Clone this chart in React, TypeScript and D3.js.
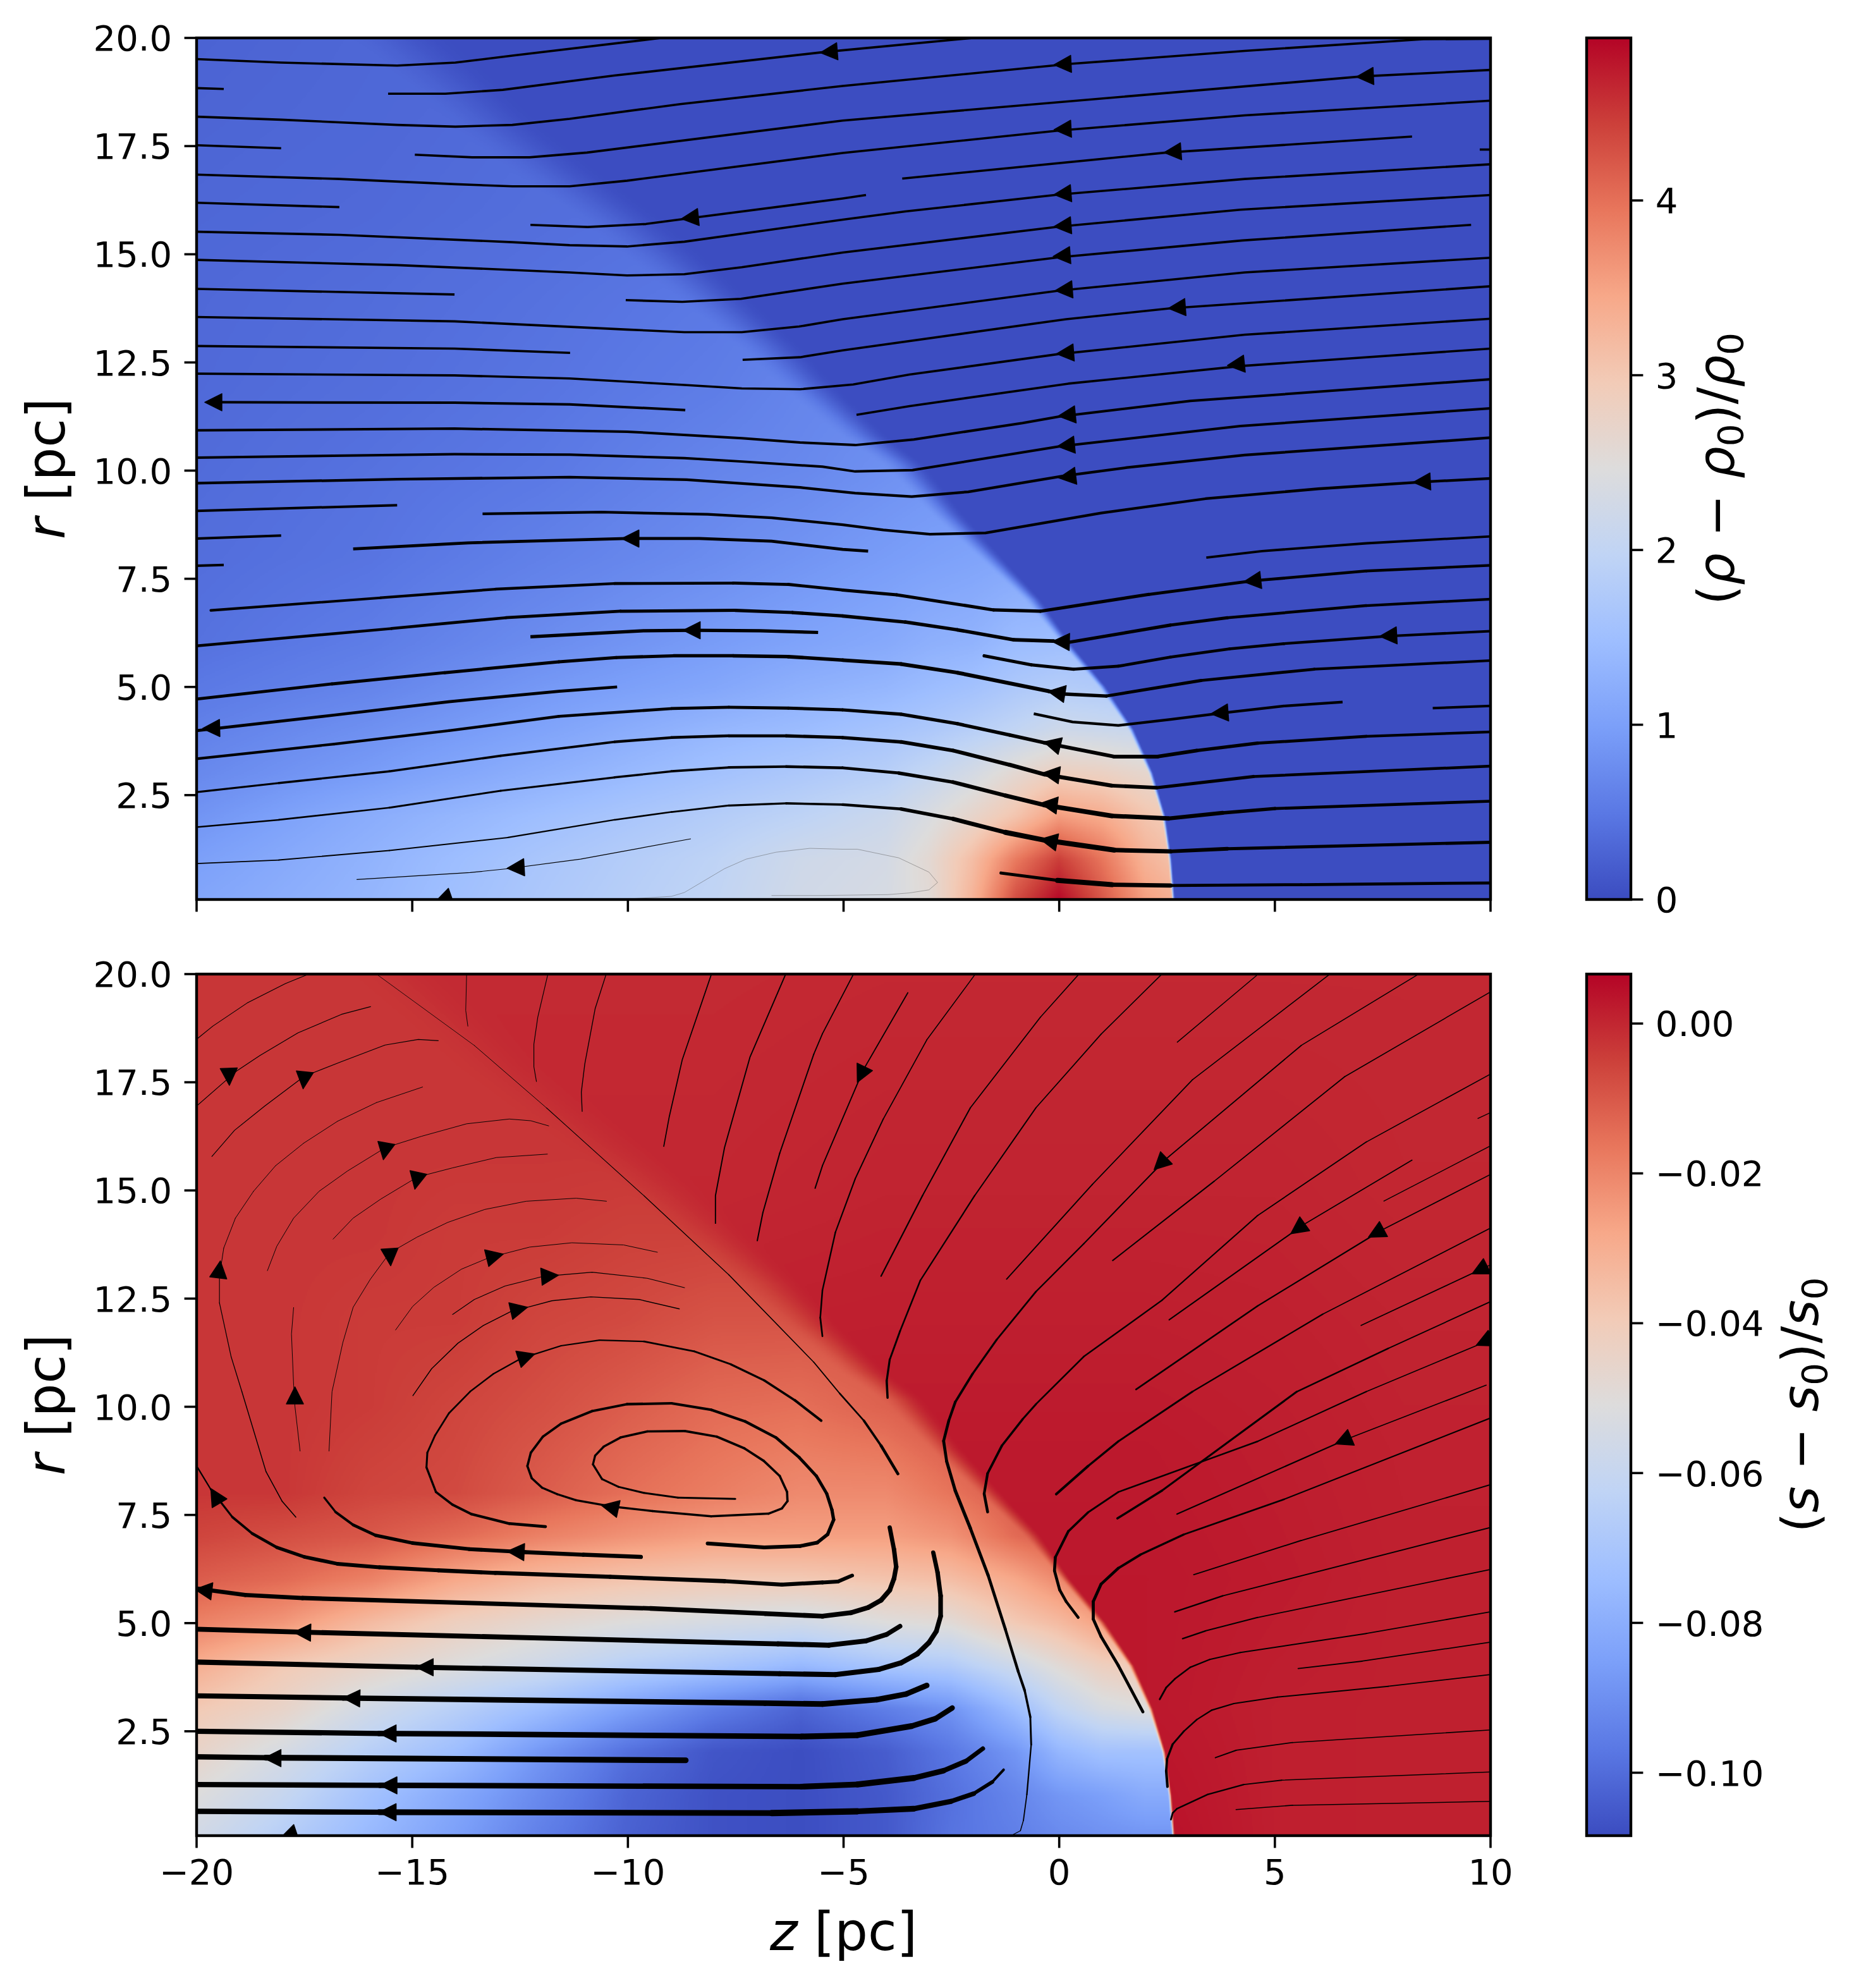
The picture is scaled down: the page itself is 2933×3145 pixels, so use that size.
import React, { useMemo } from 'react';
import * as d3 from 'd3';

type Pt = [number, number];
interface Stream { v: number[]; p: Pt[] }

const WIDTH = 2933;
const HEIGHT = 3145;
const PLOT = { left: 311, right: 2358, w: 2047, h: 1363 };
const TOP_Y = 60;
const BOT_Y = 1541;
const CBAR = { left: 2510, right: 2580 };

const zTicks = [-20, -15, -10, -5, 0, 5, 10];
const rTicks = [2.5, 5, 7.5, 10, 12.5, 15, 17.5, 20];
const rhoTicks = [0, 1, 2, 3, 4];
const sTicks = [-0.1, -0.08, -0.06, -0.04, -0.02, 0];
const rhoRange: Pt = [0, 4.93];
const sRange: Pt = [-0.1084, 0.0066];

// coolwarm
const cmStops = ['#3b4cc0', '#5a78e4', '#7b9ff9', '#9ebeff', '#c0d4f5', '#dddcdc', '#f2cbb7', '#f7a889', '#e8765c', '#cc403a', '#b40426'];

// shock front position
const shockR = [0, 1, 2, 3, 4, 5, 6, 7, 8, 9, 10.15, 10.8, 11.85, 12.86, 13.87, 14.9, 15.9, 16.9, 17.9, 18.9, 19.9, 20.5];
const shockZ = [2.66, 2.58, 2.43, 2.13, 1.68, 1, 0.16, -0.6, -1.6, -2.6, -3.6, -4.5, -5.7, -6.7, -7.85, -9.05, -10.25, -11.65, -12.95, -14, -15.15, -15.9];
const blurR = [0, 2, 4, 6, 8, 10, 15, 20];
const blurZ = [0.08, 0.1, 0.15, 0.25, 0.6, 1, 2, 2.5];

// density behind the front
const rhoZ = [-20, -16, -12, -8, -6, -4, -3, -2, -1, 0, 1, 2, 3, 4];
const rhoR = [0, 1, 2, 3, 4, 5, 6, 8, 10, 12, 14, 16, 18, 20];
const rhoRows = [
  [1.1, 1.35, 1.7, 2.0, 2.25, 2.35, 2.55, 3.3, 4.35, 4.93, 4.25, 3.55, 3.25, 3.25],
  [1.0, 1.3, 1.65, 1.95, 2.2, 2.3, 2.6, 3.15, 3.9, 4.45, 3.95, 3.3, 3.0, 3.0],
  [0.85, 1.2, 1.5, 1.8, 1.95, 2.15, 2.4, 2.7, 3.05, 3.55, 3.4, 3.05, 2.85, 2.85],
  [0.7, 0.95, 1.25, 1.55, 1.7, 1.85, 2.05, 2.3, 2.6, 2.85, 2.8, 2.65, 2.5, 2.5],
  [0.6, 0.8, 1.05, 1.35, 1.45, 1.6, 1.7, 1.85, 2.0, 2.2, 2.15, 2.1, 2.0, 2.0],
  [0.5, 0.65, 0.9, 1.1, 1.25, 1.35, 1.45, 1.55, 1.7, 1.8, 1.75, 1.7, 1.7, 1.7],
  [0.42, 0.55, 0.75, 0.95, 1.05, 1.15, 1.25, 1.3, 1.45, 1.5, 1.5, 1.5, 1.5, 1.5],
  [0.38, 0.45, 0.6, 0.75, 0.85, 0.95, 1.0, 1.05, 1.1, 1.1, 1.1, 1.1, 1.1, 1.1],
  [0.35, 0.42, 0.5, 0.65, 0.7, 0.8, 0.85, 0.85, 0.85, 0.85, 0.85, 0.85, 0.85, 0.85],
  [0.33, 0.38, 0.45, 0.55, 0.65, 0.7, 0.7, 0.7, 0.7, 0.7, 0.7, 0.7, 0.7, 0.7],
  [0.32, 0.36, 0.42, 0.5, 0.55, 0.55, 0.55, 0.55, 0.55, 0.55, 0.55, 0.55, 0.55, 0.55],
  [0.3, 0.33, 0.38, 0.42, 0.42, 0.42, 0.42, 0.42, 0.42, 0.42, 0.42, 0.42, 0.42, 0.42],
  [0.28, 0.31, 0.36, 0.38, 0.38, 0.38, 0.38, 0.38, 0.38, 0.38, 0.38, 0.38, 0.38, 0.38],
  [0.26, 0.3, 0.32, 0.33, 0.33, 0.33, 0.33, 0.33, 0.33, 0.33, 0.33, 0.33, 0.33, 0.33],
];
const rhoAhead = 0.01;

// entropy behind the front
const sZ = [-20, -18, -16, -14, -12, -10, -8, -6, -4, -2.5, -1, 0, 1, 2, 3];
const sR = [0, 1, 2, 3, 4, 5, 6, 7, 8, 10, 12, 14, 16, 20];
const sRows = [
  [-0.056, -0.066, -0.076, -0.085, -0.095, -0.103, -0.107, -0.108, -0.105, -0.098, -0.095, -0.092, -0.09, -0.089, -0.089],
  [-0.051, -0.06, -0.072, -0.082, -0.092, -0.102, -0.107, -0.108, -0.105, -0.099, -0.093, -0.088, -0.085, -0.081, -0.081],
  [-0.045, -0.054, -0.065, -0.074, -0.088, -0.099, -0.106, -0.108, -0.104, -0.097, -0.088, -0.077, -0.072, -0.072, -0.072],
  [-0.039, -0.045, -0.056, -0.065, -0.074, -0.085, -0.095, -0.102, -0.095, -0.089, -0.074, -0.062, -0.054, -0.051, -0.051],
  [-0.03, -0.039, -0.045, -0.051, -0.057, -0.065, -0.07, -0.076, -0.07, -0.067, -0.057, -0.049, -0.042, -0.039, -0.039],
  [-0.019, -0.024, -0.034, -0.042, -0.047, -0.051, -0.054, -0.056, -0.051, -0.049, -0.039, -0.034, -0.026, -0.023, -0.023],
  [-0.011, -0.014, -0.019, -0.028, -0.034, -0.037, -0.039, -0.039, -0.037, -0.035, -0.028, -0.021, -0.014, -0.011, -0.011],
  [-0.006, -0.008, -0.01, -0.014, -0.019, -0.023, -0.026, -0.026, -0.026, -0.023, -0.014, -0.01, -0.008, -0.008, -0.008],
  [-0.003, -0.003, -0.006, -0.007, -0.011, -0.015, -0.018, -0.021, -0.021, -0.016, -0.01, -0.008, -0.006, -0.006, -0.006],
  [-0.003, -0.003, -0.004, -0.006, -0.008, -0.011, -0.014, -0.015, -0.012, -0.008, -0.007, -0.007, -0.007, -0.007, -0.007],
  [-0.003, -0.003, -0.004, -0.004, -0.006, -0.007, -0.009, -0.009, -0.009, -0.007, -0.007, -0.007, -0.007, -0.007, -0.007],
  [-0.003, -0.003, -0.003, -0.004, -0.004, -0.005, -0.005, -0.005, -0.005, -0.005, -0.005, -0.005, -0.005, -0.005, -0.005],
  [-0.003, -0.003, -0.003, -0.003, -0.003, -0.003, -0.003, -0.003, -0.003, -0.003, -0.003, -0.003, -0.003, -0.003, -0.003],
  [-0.003, -0.003, -0.003, -0.003, -0.003, -0.003, -0.003, -0.003, -0.003, -0.003, -0.003, -0.003, -0.003, -0.003, -0.003],
];

// entropy ahead of the front
const aheadZ = [-16, -8, -4, 0, 2, 5, 8, 10];
const aheadR = [0, 3, 6, 9, 12, 15, 20];
const aheadRows = [
  [0.0055, 0.0055, 0.0055, 0.005, 0.0045, 0.0015, 0.0012, 0.0012],
  [0.0029, 0.0029, 0.0029, 0.0029, 0.0029, 0.0015, 0.0012, 0.0012],
  [0.0029, 0.0029, 0.0029, 0.0029, 0.0029, 0.0022, 0.0012, 0.0012],
  [0.0025, 0.0025, 0.0025, 0.0025, 0.0025, 0.0018, 0.001, 0.001],
  [0.0012, 0.0012, 0.0015, 0.0015, 0.0015, 0.0012, 0.0006, 0.0006],
  [0, 0, 0.0006, 0.0006, 0.0006, 0.0006, 0, 0],
  [-0.0006, -0.0006, -0.0003, -0.0003, -0.0003, -0.0003, -0.0003, -0.0003],
];

// density panel streamlines
const rhoStreams: Stream[] = [
  { v: [0.38], p: [[-20, 19.51], [-18.04, 19.43], [-15.35, 19.36], [-14, 19.43], [-12.68, 19.59], [-9.23, 20]] },
  { v: [0.38], p: [[-15.56, 18.71], [-14.23, 18.71], [-12.9, 18.8], [-10.32, 19.13], [-5.49, 19.67], [-2, 20]] },
  { v: [0.38], p: [[-20, 18.84], [-19.37, 18.82]] },
  { v: [0.38], p: [[-20, 18.18], [-18.04, 18.11], [-15.35, 17.99], [-14, 17.95], [-12.68, 17.99], [-11.35, 18.13], [-8.79, 18.47], [-5.02, 18.89], [0.26, 19.4], [4.3, 19.7], [8.44, 19.97], [10, 19.98]] },
  { v: [0.38], p: [[-14.94, 17.3], [-13.61, 17.24], [-12.28, 17.24], [-10.95, 17.35], [-5.02, 18.09], [7.02, 19.11], [10, 19.26]] },
  { v: [0.38], p: [[-20, 16.84], [-16.69, 16.74], [-14, 16.62], [-12.68, 16.57], [-11.35, 16.57], [-10.02, 16.7], [-5.02, 17.34], [0, 17.86], [4.3, 18.21], [10, 18.55]] },
  { v: [0.38], p: [[-20, 17.52], [-18.04, 17.45]] },
  { v: [0.38], p: [[-12.26, 15.68], [-10.93, 15.63], [-9.58, 15.7], [-8.74, 15.81], [-5.02, 16.29], [-4.48, 16.37]] },
  { v: [0.38], p: [[-3.64, 16.75], [2.48, 17.35], [8.18, 17.72]] },
  { v: [0.38], p: [[9.75, 17.42], [10, 17.42]] },
  { v: [0.38], p: [[-20, 16.19], [-16.69, 16.09]] },
  { v: [0.38], p: [[-20, 15.52], [-16.69, 15.45], [-12.68, 15.28], [-11.35, 15.21], [-10.02, 15.18], [-8.69, 15.29], [-5.02, 15.8], [-3.57, 15.99], [0, 16.38], [4.3, 16.74], [10, 17.08]] },
  { v: [0.38], p: [[-20, 14.87], [-15.35, 14.75], [-11.35, 14.58], [-10.02, 14.51], [-8.69, 14.54], [-7.36, 14.7], [-5.02, 15.04], [0, 15.64], [4.2, 16.03], [10, 16.37]] },
  { v: [0.38], p: [[-20, 14.2], [-14.02, 14.07]] },
  { v: [0.38], p: [[-10.05, 13.94], [-8.74, 13.9], [-7.38, 13.97], [-5.02, 14.32], [0, 14.93], [4.25, 15.32], [9.55, 15.68]] },
  { v: [0.38], p: [[-20, 13.55], [-14.02, 13.45], [-10.02, 13.26], [-8.69, 13.2], [-7.36, 13.2], [-6.03, 13.33], [-5.02, 13.5], [0, 14.16], [4.3, 14.58], [10, 14.92]] },
  { v: [0.38], p: [[-20, 12.88], [-14.02, 12.82], [-11.34, 12.72]] },
  { v: [0.38], p: [[-7.34, 12.56], [-6.01, 12.62], [-5.02, 12.78], [0.16, 13.5], [2.58, 13.75], [10, 14.26]] },
  { v: [0.38], p: [[-20, 12.24], [-14.02, 12.2], [-11.35, 12.13], [-8.69, 11.98], [-7.36, 11.9], [-6.01, 11.88], [-4.78, 11.99], [-3.47, 12.22], [-0.04, 12.69], [4.3, 13.14], [10, 13.51]] },
  { v: [0.42], p: [[-19.7, 11.58], [-14.02, 11.57], [-11.35, 11.53], [-8.67, 11.4]] },
  { v: [0.42], p: [[-20, 10.93], [-14.02, 10.97], [-10.02, 10.9], [-7.36, 10.75], [-6.01, 10.65], [-4.73, 10.59], [-3.37, 10.72], [-0.85, 11.1], [0, 11.25], [3.04, 11.61], [10, 12.11]] },
  { v: [0.38], p: [[-4.7, 11.29], [-3.47, 11.49], [0.21, 12.01], [4.25, 12.42], [10, 12.82]] },
  { v: [0.42], p: [[-20, 10.3], [-14.02, 10.38], [-11.35, 10.37], [-8.69, 10.29], [-7.36, 10.21], [-5.49, 10.09], [-4.73, 9.98], [-3.4, 10.01], [0, 10.56], [4.2, 11.03], [10, 11.44]] },
  { v: [0.45], p: [[-20, 9.71], [-15.35, 9.8], [-11.35, 9.85], [-8.64, 9.79], [-6, 9.61], [-4.73, 9.48], [-3.42, 9.4], [-2.11, 9.51], [0.06, 9.87], [1.57, 10.07], [4.3, 10.36], [10, 10.76]] },
  { v: [0.42], p: [[-20, 9.07], [-15.35, 9.2]] },
  { v: [0.45], p: [[-13.37, 9], [-10.61, 9.04], [-8.15, 8.99], [-6.67, 8.91], [-5.02, 8.75], [-4.08, 8.63], [-3, 8.53], [-1.71, 8.56], [0.97, 9.02], [3.39, 9.35], [6.01, 9.58], [8.44, 9.74], [10, 9.82]] },
  { v: [0.42], p: [[-20, 8.43], [-18.04, 8.5]] },
  { v: [0.5], p: [[-16.37, 8.19], [-13.71, 8.33], [-10.02, 8.43], [-8.35, 8.43], [-6.67, 8.37], [-5.02, 8.18], [-4.43, 8.14]] },
  { v: [0.42], p: [[-20, 7.8], [-19.37, 7.82]] },
  { v: [0.42, 0.5, 0.55, 0.45], p: [[-19.67, 6.77], [-15.73, 7.06], [-13.07, 7.26], [-10.31, 7.39], [-7.56, 7.4], [-6.28, 7.37], [-5.02, 7.24], [-3.77, 7.13], [-1.52, 6.78], [-0.44, 6.75], [2.08, 7.14], [4.45, 7.45], [7.12, 7.68], [10, 7.81]] },
  { v: [0.4], p: [[3.41, 7.99], [4.7, 8.14], [7.12, 8.32], [10, 8.48]] },
  { v: [0.45, 0.55, 0.6, 0.42], p: [[-20, 5.95], [-15.48, 6.35], [-12.83, 6.6], [-10.17, 6.75], [-7.51, 6.77], [-6.18, 6.72], [-5.02, 6.64], [-3.57, 6.5], [-2.36, 6.32], [-1.05, 6.09], [-0.14, 6.06], [0.21, 6.03], [2.58, 6.43], [3.9, 6.6], [7.12, 6.88], [10, 7.03]] },
  { v: [0.55], p: [[-12.26, 6.16], [-9.62, 6.3], [-8.5, 6.31], [-6.93, 6.3], [-5.59, 6.26]] },
  { v: [0.55, 0.42], p: [[-1.74, 5.72], [-0.65, 5.51], [0.34, 5.41], [1.37, 5.48], [2.58, 5.69], [3.95, 5.88], [5.21, 6], [7.73, 6.18], [10, 6.29]] },
  { v: [0.5, 0.55, 0.65, 0.42], p: [[-20, 4.72], [-16.86, 5.07], [-14.25, 5.33], [-11.6, 5.58], [-10.27, 5.68], [-8.94, 5.72], [-7.56, 5.72], [-6.28, 5.7], [-5.02, 5.62], [-3.67, 5.53], [-2.36, 5.33], [-0.24, 4.9], [0.06, 4.84], [1.09, 4.79], [3.29, 5.15], [5.91, 5.41], [10, 5.61]] },
  { v: [0.5], p: [[-20, 3.99], [-16.81, 4.35], [-14.15, 4.66], [-11.6, 4.9], [-10.25, 5]] },
  { v: [0.45], p: [[-0.59, 4.38], [0.31, 4.19], [1.37, 4.11], [2.58, 4.25], [3.79, 4.4], [5.21, 4.56], [6.57, 4.65]] },
  { v: [0.42], p: [[8.66, 4.51], [10, 4.56]] },
  { v: [0.42, 0.5, 0.55, 0.65, 0.42], p: [[-20, 3.34], [-16.81, 3.68], [-14.15, 3.99], [-11.6, 4.32], [-8.99, 4.5], [-7.66, 4.53], [-6.28, 4.51], [-5.02, 4.47], [-3.67, 4.37], [-2.36, 4.15], [-1.15, 3.89], [-0.34, 3.71], [1.27, 3.39], [2.28, 3.39], [3.19, 3.53], [4.6, 3.7], [7.12, 3.86], [10, 3.96]] },
  { v: [0.32, 0.42, 0.55, 0.7, 0.45], p: [[-20, 2.57], [-18.09, 2.78], [-15.53, 3.05], [-12.95, 3.41], [-10.31, 3.73], [-8.99, 3.83], [-7.66, 3.87], [-6.33, 3.87], [-5.02, 3.83], [-3.67, 3.73], [-2.46, 3.53], [-1.15, 3.2], [-0.34, 2.98], [1.22, 2.72], [2.25, 2.67], [4.5, 2.93], [10, 3.17]] },
  { v: [0.25, 0.35, 0.5, 0.8, 0.45], p: [[-20, 1.76], [-18.09, 1.93], [-15.53, 2.21], [-12.95, 2.6], [-10.31, 2.91], [-8.99, 3.05], [-7.66, 3.14], [-6.33, 3.16], [-5.02, 3.13], [-3.72, 3.01], [-2.46, 2.8], [-1.25, 2.49], [-0.34, 2.27], [1.22, 2.02], [2.53, 1.96], [3.79, 2.09], [5, 2.19], [10, 2.36]] },
  { v: [0.18, 0.25, 0.4, 0.9, 0.45], p: [[-20, 0.92], [-18.09, 1], [-15.53, 1.22], [-12.78, 1.52], [-10.31, 1.93], [-8.99, 2.11], [-7.66, 2.26], [-6.33, 2.31], [-5.02, 2.28], [-3.67, 2.18], [-2.46, 1.95], [-1.25, 1.64], [-0.34, 1.46], [1.27, 1.23], [2.58, 1.2], [3.9, 1.26], [10, 1.41]] },
  { v: [0.12], p: [[-16.29, 0.55], [-13.66, 0.71], [-12.78, 0.8], [-11.1, 1.02], [-8.54, 1.49]] },
  { v: [0.35, 0.9, 0.5, 0.5], p: [[-1.35, 0.7], [-0.04, 0.53], [1.22, 0.43], [2.58, 0.41], [5.61, 0.43], [10, 0.47]] },
  { v: [0.05], p: [[-11.4, 0.05], [-10, 0.1], [-8.99, 0.16], [-8.69, 0.25], [-7.76, 0.8], [-7.26, 1.02], [-6.57, 1.18], [-5.78, 1.27], [-5.02, 1.25], [-4.68, 1.25], [-3.72, 1.05], [-3.02, 0.72], [-2.82, 0.48], [-3.02, 0.31], [-3.47, 0.24], [-3.98, 0.2], [-5.49, 0.18], [-6.67, 0.18]] },
  { v: [0.5], p: [[1.37, 0.04], [2.73, 0.04]] },
  { v: [0.12], p: [[-14.5, 0.04], [-11, 0.04]] },
];

// [tip z, tip r, back z, back r]
const rhoArrows = [
  [-5.54, 19.66, -5.15, 19.69], [-0.12, 19.38, 0.26, 19.4], [6.89, 19.1, 7.28, 19.12], [-0.12, 17.88, 0.26, 17.9],
  [2.43, 17.35, 2.83, 17.38], [-0.12, 16.38, 0.26, 16.41], [-0.12, 15.64, 0.27, 15.67], [-0.14, 14.95, 0.26, 14.98],
  [-0.09, 14.16, 0.31, 14.19], [2.53, 13.75, 2.92, 13.78], [-0.06, 12.7, 0.34, 12.73], [3.9, 12.43, 4.28, 12.47],
  [-0.02, 11.26, 0.38, 11.3], [-0.04, 10.56, 0.36, 10.6], [-0.01, 9.83, 0.38, 9.88], [-8.76, 15.82, -8.37, 15.86],
  [-19.81, 11.58, -19.42, 11.58], [8.21, 9.73, 8.61, 9.75], [4.28, 7.43, 4.65, 7.47], [7.43, 6.17, 7.8, 6.19],
  [-0.16, 6.05, 0.22, 6.04], [-0.26, 4.9, 0.11, 4.84], [3.52, 4.38, 3.92, 4.41], [-0.36, 3.73, 0.04, 3.63],
  [-0.39, 3.01, 0, 2.96], [-0.44, 2.31, -0.04, 2.26], [-0.44, 1.48, -0.06, 1.41], [-10.14, 8.43, -9.75, 8.43],
  [-8.72, 6.31, -8.33, 6.31], [-19.86, 4.04, -19.47, 4.05], [-12.8, 0.81, -12.46, 0.83], [-14.47, 0.03, -14.15, 0.14],
];

// entropy panel streamlines
const sStreams: Stream[] = [
  { v: [0.12], p: [[-19.98, 18.51], [-19.62, 18.8], [-18.83, 19.33], [-17.94, 19.78], [-17.4, 20]] },
  { v: [0.12], p: [[-20, 16.95], [-19.07, 17.76], [-18.53, 18.12], [-17.65, 18.64], [-16.64, 19.07], [-15.96, 19.25]] },
  { v: [0.12], p: [[-19.65, 15.78], [-19.12, 16.39], [-18.42, 16.95], [-17.5, 17.64], [-16.66, 17.97], [-15.63, 18.36], [-14.86, 18.49], [-14.39, 18.46]] },
  { v: [0.18, 0.1, 0.1], p: [[-17.7, 7.45], [-18.02, 7.82], [-18.39, 8.5], [-18.95, 10.35], [-19.2, 11.16], [-19.47, 12.4], [-19.47, 13.02], [-19.37, 13.67], [-19.1, 14.36], [-18.68, 14.98], [-18.17, 15.57], [-17.52, 16.09], [-16.73, 16.6], [-15.83, 17.03], [-14.76, 17.39]] },
  { v: [0.1], p: [[-18.36, 13.14], [-18.14, 13.71], [-17.75, 14.36], [-17.16, 14.98], [-16.5, 15.45], [-15.62, 15.99], [-14.79, 16.25], [-13.74, 16.54], [-12.75, 16.65], [-12.25, 16.61], [-11.83, 16.49]] },
  { v: [0.1], p: [[-16.84, 13.87], [-16.37, 14.36], [-15.73, 14.8], [-14.88, 15.31], [-14.07, 15.52], [-13.05, 15.76], [-11.86, 15.84]] },
  { v: [0.1], p: [[-17.75, 12.3], [-17.8, 11.68], [-17.75, 10.5], [-17.72, 10.01], [-17.6, 8.97]] },
  { v: [0.1], p: [[-16.93, 8.97], [-16.86, 10.35], [-16.61, 11.48], [-16.37, 12.3], [-15.97, 12.95], [-15.52, 13.56], [-14.89, 13.92], [-14.18, 14.26], [-13.32, 14.56], [-12.36, 14.75], [-11.2, 14.82], [-10.49, 14.75]] },
  { v: [0.1], p: [[-15.39, 11.77], [-14.99, 12.32], [-14.5, 12.76], [-13.86, 13.18], [-13.21, 13.45], [-12.28, 13.69], [-11.3, 13.79], [-10.1, 13.74], [-9.31, 13.57]] },
  { v: [0.12], p: [[-14.07, 12.13], [-13.56, 12.48], [-12.85, 12.79], [-11.94, 13.02], [-11.64, 13.04], [-10.83, 13.11], [-9.55, 12.97], [-8.68, 12.75]] },
  { v: [0.15], p: [[-14.99, 10.25], [-14.55, 10.88], [-13.94, 11.47], [-13.35, 11.88], [-12.68, 12.22], [-12.33, 12.3], [-11.76, 12.45], [-10.86, 12.54], [-9.74, 12.48], [-8.8, 12.26]] },
  { v: [0.5, 0.3, 0.22, 0.45], p: [[-11.91, 7.23], [-12.75, 7.3], [-13.63, 7.52], [-14.07, 7.74], [-14.45, 8.03], [-14.67, 8.6], [-14.65, 8.94], [-14.47, 9.34], [-14.15, 9.85], [-13.66, 10.35], [-13.12, 10.76], [-12.47, 11.12], [-11.55, 11.41], [-10.66, 11.54], [-9.63, 11.51], [-8.46, 11.28], [-7.61, 10.98], [-6.84, 10.61], [-6.13, 10.15], [-5.52, 9.68]] },
  { v: [0.3, 0.4, 0.35, 0.45, 0.65], p: [[-7.51, 7.87], [-8.84, 7.9], [-9.63, 8.01], [-10.22, 8.15], [-10.6, 8.33], [-10.81, 8.67], [-10.76, 8.87], [-10.56, 9.08], [-10.17, 9.29], [-9.55, 9.43], [-8.68, 9.44], [-7.94, 9.31], [-7.3, 9.04], [-6.85, 8.75], [-6.48, 8.4], [-6.31, 8.03], [-6.3, 7.82], [-6.43, 7.65], [-6.74, 7.53], [-8.07, 7.47], [-9.43, 7.59], [-10.41, 7.7], [-11.2, 7.84], [-11.64, 7.98], [-11.99, 8.13], [-12.23, 8.35], [-12.33, 8.63], [-12.25, 8.94], [-11.97, 9.31], [-11.55, 9.61], [-10.83, 9.9], [-10.02, 10.06], [-8.99, 10.08], [-8.07, 9.93], [-7.28, 9.66], [-6.57, 9.29], [-6.03, 8.83], [-5.63, 8.4], [-5.39, 7.99], [-5.27, 7.62], [-5.23, 7.39], [-5.37, 7.05], [-5.61, 6.86], [-6.01, 6.78], [-6.84, 6.75], [-8.15, 6.84]] },
  { v: [0.7, 0.6, 0.3], p: [[-9.7, 6.53], [-11.03, 6.58], [-12.38, 6.64], [-13.68, 6.71], [-14.99, 6.85], [-15.85, 7.03], [-16.37, 7.27], [-16.78, 7.57], [-17.04, 7.9]] },
  { v: [0.6, 0.7, 0.6, 0.2], p: [[-4.8, 6.1], [-5.13, 5.96], [-5.49, 5.94], [-6.43, 5.89], [-7.76, 5.97], [-10.41, 6.07], [-13.07, 6.16], [-14.4, 6.22], [-15.76, 6.29], [-16.73, 6.37], [-17.5, 6.53], [-18.14, 6.75], [-18.71, 7.07], [-19.17, 7.45], [-19.67, 8.09], [-19.98, 8.6]] },
  { v: [0.65, 0.8, 0.8, 0.7], p: [[-20, 5.8], [-18.87, 5.65], [-17.54, 5.58], [-9.48, 5.34], [-6.82, 5.22], [-5.49, 5.16], [-4.83, 5.24], [-4.43, 5.36], [-4.13, 5.53], [-3.93, 5.76], [-3.83, 6.03], [-3.78, 6.3], [-3.83, 6.7], [-3.93, 7.21]] },
  { v: [0.8, 0.85, 0.75], p: [[-20, 4.86], [-17.5, 4.79], [-6.52, 4.52], [-5.34, 4.49], [-4.48, 4.59], [-4, 4.74], [-3.69, 4.93]] },
  { v: [0.85, 0.85, 0.7], p: [[-20, 4.1], [-14.9, 3.98], [-6.48, 3.83], [-5.19, 3.81], [-4.18, 3.93], [-3.67, 4.08], [-3.29, 4.29], [-3.02, 4.55], [-2.85, 4.81], [-2.75, 5.16], [-2.75, 5.63], [-2.82, 6.17], [-2.92, 6.63]] },
  { v: [0.85, 0.95, 0.9], p: [[-20, 3.32], [-16.6, 3.27], [-6.82, 3.15], [-5.49, 3.13], [-4.23, 3.23], [-3.55, 3.36], [-3.07, 3.56]] },
  { v: [0.85, 1, 0.85], p: [[-20, 2.5], [-15.77, 2.45], [-5.98, 2.38], [-4.68, 2.41], [-3.42, 2.62], [-2.87, 2.79], [-2.48, 3.04]] },
  { v: [0.85, 1], p: [[-20, 1.91], [-18.4, 1.89], [-8.66, 1.83]] },
  { v: [0.85, 1, 0.7], p: [[-20, 1.27], [-15.75, 1.25], [-5.98, 1.22], [-4.68, 1.27], [-3.37, 1.42], [-2.68, 1.59], [-2.16, 1.81], [-1.77, 2.1]] },
  { v: [0.85, 1.05, 0.8, 0.35], p: [[-20, 0.65], [-15.77, 0.63], [-6.67, 0.61], [-4.68, 0.65], [-3.37, 0.71], [-2.51, 0.88], [-1.98, 1.06], [-1.55, 1.33], [-1.29, 1.61]] },
  { v: [0.5], p: [[-20, 0.03], [-17.9, 0.03]] },
  { v: [0.4], p: [[-13.5, 0.03], [-4.2, 0.03]] },
  { v: [0.08, 0.12, 0.22, 0.55], p: [[-15.83, 20], [-13.56, 18.35], [-11.89, 16.91], [-9.63, 14.88], [-7.66, 13.05], [-5.69, 11.03], [-5.09, 10.31], [-4.53, 9.68], [-4.13, 9.1], [-3.74, 8.45]] },
  { v: [0.1], p: [[-13.74, 19.98], [-13.76, 19.16], [-13.71, 18.79]] },
  { v: [0.12], p: [[-11.86, 19.98], [-12.09, 19], [-12.18, 18.38], [-12.18, 17.86], [-12.12, 17.51]] },
  { v: [0.14], p: [[-10.51, 19.98], [-10.76, 19.2], [-11, 17.92], [-11.08, 17.27], [-11.06, 16.82]] },
  { v: [0.18], p: [[-8.07, 19.98], [-8.74, 18.02], [-9.04, 16.71], [-9.17, 16.01]] },
  { v: [0.2], p: [[-6.35, 19.98], [-7.17, 18.08], [-7.76, 15.99], [-7.97, 14.88], [-7.97, 14.23]] },
  { v: [0.18, 0.22], p: [[-4.78, 19.98], [-5.49, 18.62], [-5.69, 18.15], [-6.48, 15.86], [-6.87, 14.49], [-7, 13.84]] },
  { v: [0.18, 0.22], p: [[-3.51, 19.57], [-4.54, 17.79], [-5.49, 15.57], [-5.66, 15.05]] },
  { v: [0.15, 0.3], p: [[-1.96, 19.98], [-3.07, 18.48], [-4.08, 16.65], [-4.73, 15.27], [-5.19, 14.03], [-5.49, 12.69], [-5.54, 12.06], [-5.49, 11.63]] },
  { v: [0.15, 0.25], p: [[0.44, 19.98], [-0.44, 19], [-2.06, 16.91], [-3.17, 14.88], [-4.13, 13.02]] },
  { v: [0.15, 0.25, 0.4], p: [[2.36, 19.98], [0.97, 18.61], [-0.54, 16.91], [-1.96, 14.88], [-3.22, 12.92], [-3.69, 11.75], [-3.93, 11.09], [-4, 10.6], [-3.98, 10.21]] },
  { v: [0.15], p: [[4.58, 19.97], [2.73, 18.42]] },
  { v: [0.15, 0.22], p: [[6.25, 19.98], [3.09, 17.56], [0.77, 15.14], [-1.22, 12.95]] },
  { v: [0.15, 0.25, 0.45, 0.55, 0.45, 0.2, 0.08], p: [[8.3, 19.98], [5.61, 18.35], [2.48, 15.73], [0.57, 13.77], [-0.54, 12.66], [-1.45, 11.55], [-2.01, 10.76], [-2.41, 10.11], [-2.56, 9.68], [-2.68, 9.21], [-2.61, 8.74], [-2.41, 8.06], [-2.06, 7.19], [-1.65, 6.11], [-1.25, 4.86], [-0.95, 3.88], [-0.8, 3.44], [-0.67, 2.83], [-0.65, 2.19], [-0.75, 1.04], [-0.83, 0.44], [-0.9, 0.2], [-1.15, 0.07], [-1.45, 0.03]] },
  { v: [0.15, 0.22], p: [[10, 19.59], [6.62, 17.63], [3.59, 15.21], [1.24, 13.38]] },
  { v: [0.15, 0.3, 0.5], p: [[10, 17.69], [7.12, 16.12], [4.6, 14.42], [2.38, 12.46], [0.57, 11.16], [-0.54, 10.06], [-0.85, 9.71], [-1.33, 9.1], [-1.66, 8.46], [-1.74, 7.99], [-1.66, 7.57]] },
  { v: [0.15, 0.25], p: [[8.18, 15.7], [5.65, 14.2], [2.55, 12.01]] },
  { v: [0.15], p: [[10, 16.03], [7.52, 14.75]] },
  { v: [0.15, 0.3], p: [[10, 15.37], [7.47, 14.08], [4.6, 12.33], [1.78, 10.4]] },
  { v: [0.15, 0.3, 0.45], p: [[10, 14.13], [6.11, 12.14], [3.09, 10.35], [1.37, 9.2], [0.67, 8.63], [-0.07, 7.98]] },
  { v: [0.15, 0.3, 0.4], p: [[10, 12.43], [7.63, 11.35], [5.51, 10.35], [2.38, 8.06], [1.35, 7.42]] },
  { v: [0.15, 0.3, 0.5, 0.45], p: [[10, 11.55], [7.12, 10.35], [4.6, 9.2], [1.37, 8.03], [0.67, 7.56], [0.21, 7.12], [-0.09, 6.52], [-0.11, 6.21], [0.01, 5.77], [0.16, 5.5], [0.44, 5.13]] },
  { v: [0.15, 0.25], p: [[9.9, 10.5], [6.71, 9.27], [2.73, 7.52]] },
  { v: [0.15, 0.2], p: [[10, 13.28], [9.87, 13.22], [7, 11.88]] },
  { v: [0.15], p: [[10, 16.8], [9.7, 16.66]] },
  { v: [0.2, 0.5, 0.5], p: [[10, 9.74], [5.21, 7.86], [2.89, 7.05], [1.88, 6.58], [1.37, 6.27], [0.97, 5.9], [0.79, 5.5], [0.79, 5.09], [0.97, 4.69], [1.37, 4.02], [1.94, 2.95]] },
  { v: [0.18, 0.22], p: [[10, 8.2], [5.61, 6.91], [3.12, 6.12]] },
  { v: [0.18, 0.28], p: [[10, 7.21], [3.79, 5.63], [2.68, 5.26]] },
  { v: [0.18, 0.25], p: [[10, 6.24], [4.6, 5.13], [3.39, 4.82], [2.86, 4.64]] },
  { v: [0.18, 0.3], p: [[10, 5.26], [7.12, 4.76], [4.2, 4.32], [3.49, 4.16], [3.04, 3.98], [2.68, 3.71], [2.48, 3.51], [2.33, 3.24]] },
  { v: [0.18, 0.2], p: [[10, 4.56], [7.02, 4.12], [5.54, 3.95]] },
  { v: [0.18, 0.25, 0.45], p: [[10, 3.81], [7.63, 3.54], [5.06, 3.29], [4.05, 3.14], [3.54, 2.99], [3.19, 2.77], [2.89, 2.5], [2.63, 2.2], [2.5, 1.86], [2.48, 1.59], [2.51, 1.22]] },
  { v: [0.15, 0.22], p: [[10, 2.53], [5.41, 2.24], [4.1, 2.06], [3.62, 1.89]] },
  { v: [0.15, 0.25, 0.3], p: [[10, 1.56], [5.16, 1.37], [4.28, 1.27], [3.44, 1.04], [2.73, 0.71], [2.63, 0.61], [2.59, 0.46]] },
  { v: [0.15, 0.18], p: [[10, 0.88], [5.41, 0.79], [4.1, 0.69]] },
];

const sArrows = [
  [-19.24, 17.43, -19.25, 17.71], [-17.53, 17.35, -17.5, 17.64], [-19.45, 13.37, -19.49, 13.04], [-15.67, 15.71, -15.62, 15.99],
  [-14.94, 15.03, -14.88, 15.31], [-15.5, 13.26, -15.52, 13.56], [-12.89, 13.53, -13.21, 13.45], [-11.61, 13.04, -11.96, 13.01],
  [-12.33, 12.3, -12.68, 12.22], [-12.16, 11.22, -12.47, 11.12], [-17.72, 10.46, -17.72, 10.13], [-4.68, 17.5, -4.54, 17.79],
  [2.2, 15.48, 2.44, 15.71], [5.37, 14, 5.65, 14.2], [7.17, 13.92, 7.47, 14.08], [9.57, 13.07, 9.87, 13.22],
  [9.67, 11.42, 9.95, 11.55], [6.4, 9.14, 6.71, 9.27], [-19.67, 8.11, -19.51, 7.84], [-10.61, 7.72, -10.28, 7.65],
  [-12.8, 6.66, -12.4, 6.64], [-20.04, 5.78, -19.78, 5.75], [-17.75, 4.79, -17.34, 4.78], [-14.91, 3.98, -14.49, 3.98],
  [-16.61, 3.27, -16.2, 3.26], [-15.77, 2.45, -15.36, 2.45], [-18.44, 1.88, -18.04, 1.88], [-15.75, 1.25, -15.36, 1.25],
  [-15.77, 0.63, -15.36, 0.63], [-18.06, 0.03, -17.7, 0.15],
];

const zScale = d3.scaleLinear().domain([-20, 10]).range([0, PLOT.w]);
const rScale = d3.scaleLinear().domain([0, 20]).range([PLOT.h + 6, 0]);
const widthScale = d3.scaleLinear().domain([0, 1]).range([0, 9.5]);
const shockAt = d3.scaleLinear().domain(shockR).range(shockZ);
const blurAt = d3.scaleLinear().domain(blurR).range(blurZ).clamp(true);

function sampleGrid(xs: number[], ys: number[], rows: number[][], x: number, y: number) {
  const i = Math.max(0, Math.min(xs.length - 2, d3.bisectRight(xs, x) - 1));
  const j = Math.max(0, Math.min(ys.length - 2, d3.bisectRight(ys, y) - 1));
  const fx = Math.max(0, Math.min(1, (x - xs[i]) / (xs[i + 1] - xs[i])));
  const fy = Math.max(0, Math.min(1, (y - ys[j]) / (ys[j + 1] - ys[j])));
  const lo = rows[j][i] * (1 - fx) + rows[j][i + 1] * fx;
  const hi = rows[j + 1][i] * (1 - fx) + rows[j + 1][i + 1] * fx;
  return lo * (1 - fy) + hi * fy;
}

function colormap(range: Pt) {
  const dom = d3.range(cmStops.length).map(i => range[0] + ((range[1] - range[0]) * i) / (cmStops.length - 1));
  return d3.scaleLinear<string>().domain(dom).range(cmStops).interpolate(d3.interpolateRgb).clamp(true);
}

function paintField(range: Pt, behind: (z: number, r: number) => number, ahead: (z: number, r: number) => number) {
  const w = Math.round(PLOT.w / 2);
  const h = Math.round(PLOT.h / 2);
  const canvas = document.createElement('canvas');
  canvas.width = w;
  canvas.height = h;
  const ctx = canvas.getContext('2d') as CanvasRenderingContext2D;
  const img = ctx.createImageData(w, h);
  const color = colormap(range);
  const lut = d3.range(512).map(i => d3.rgb(color(range[0] + ((range[1] - range[0]) * i) / 511)));
  for (let y = 0; y < h; y++) {
    const r = rScale.invert((y + 0.5) * 2);
    const zs = shockAt(r);
    const bw = blurAt(r);
    for (let x = 0; x < w; x++) {
      const z = zScale.invert((x + 0.5) * 2);
      let f = (zs - z) / bw + 0.5;
      f = f < 0 ? 0 : f > 1 ? 1 : f;
      f = f * f * (3 - 2 * f);
      let val = 0;
      if (f <= 0) val = ahead(z, r);
      else if (f >= 1) val = behind(z, r);
      else val = behind(z, r) * f + ahead(z, r) * (1 - f);
      const k = Math.max(0, Math.min(511, Math.round(((val - range[0]) / (range[1] - range[0])) * 511)));
      const c = lut[k];
      const o = (y * w + x) * 4;
      img.data[o] = c.r;
      img.data[o + 1] = c.g;
      img.data[o + 2] = c.b;
      img.data[o + 3] = 255;
    }
  }
  ctx.putImageData(img, 0, 0);
  return canvas.toDataURL();
}

const lineGen = d3.line<Pt>().x(d => zScale(d[0])).y(d => rScale(d[1]));

const StreamLines: React.FC<{ streams: Stream[] }> = ({ streams }) => (
  <g fill="none" stroke="#000" strokeLinejoin="round">
    {streams.map((s, i) => {
      if (s.v.length === 1) {
        const w = widthScale(s.v[0]);
        return <path key={i} d={lineGen(s.p) as string} strokeWidth={w} stroke={w < 0.6 ? '#555' : '#000'} />;
      }
      const speed = d3.scaleLinear().domain(s.v.map((_, k) => k / (s.v.length - 1))).range(s.v);
      return (
        <g key={i} strokeLinecap="round">
          {s.p.slice(1).map((q, k) => (
            <path key={k} d={lineGen([s.p[k], q]) as string} strokeWidth={widthScale(speed((k + 0.5) / (s.p.length - 1)))} />
          ))}
        </g>
      );
    })}
  </g>
);

const Arrows: React.FC<{ arrows: number[][] }> = ({ arrows }) => (
  <g fill="#000" stroke="#000" strokeWidth={1.5} strokeLinejoin="round">
    {arrows.map((a, i) => {
      const tx = zScale(a[0]);
      const ty = rScale(a[1]);
      const ang = Math.atan2(rScale(a[3]) - ty, zScale(a[2]) - tx);
      const len = 27;
      const half = 13.5;
      const bx = tx + len * Math.cos(ang);
      const by = ty + len * Math.sin(ang);
      const px = -Math.sin(ang) * half;
      const py = Math.cos(ang) * half;
      return <polygon key={i} points={`${tx},${ty} ${bx + px},${by + py} ${bx - px},${by - py}`} />;
    })}
  </g>
);

const FONT = "'DejaVu Sans', sans-serif";
const TICK_FS = 56;
const LABEL_FS = 83;
const TICK_LEN = 19.4;
const LW = 4.4;

const Panel: React.FC<{
  y: number; id: string; image: string; streams: Stream[]; arrows: number[][]; showX: boolean;
}> = ({ y, id, image, streams, arrows, showX }) => (
  <g transform={`translate(${PLOT.left},${y})`}>
    <clipPath id={id}>
      <rect width={PLOT.w} height={PLOT.h} />
    </clipPath>
    <image href={image} width={PLOT.w} height={PLOT.h} preserveAspectRatio="none" />
    <g clipPath={`url(#${id})`}>
      <StreamLines streams={streams} />
      <Arrows arrows={arrows} />
    </g>
    <rect width={PLOT.w} height={PLOT.h} fill="none" stroke="#000" strokeWidth={LW} />
    {zTicks.map(t => (
      <g key={t} transform={`translate(${zScale(t)},${PLOT.h})`}>
        <line y2={TICK_LEN} stroke="#000" strokeWidth={3.6} />
        {showX && (
          <text y={TICK_LEN + 19.4 + 38} textAnchor="middle" fontSize={TICK_FS} fontFamily={FONT}>
            {String(t).replace('-', '\u2212')}
          </text>
        )}
      </g>
    ))}
    {rTicks.map(t => (
      <g key={t} transform={`translate(0,${rScale(t)})`}>
        <line x2={-TICK_LEN} stroke="#000" strokeWidth={3.6} />
        <text x={-TICK_LEN - 19.4} dy="0.36em" textAnchor="end" fontSize={TICK_FS} fontFamily={FONT}>
          {t.toFixed(1)}
        </text>
      </g>
    ))}
    <text transform={`translate(${-209},${PLOT.h / 2}) rotate(-90)`} textAnchor="middle" fontSize={LABEL_FS} fontFamily={FONT}>
      <tspan fontStyle="italic">r</tspan> [pc]
    </text>
    {showX && (
      <text x={PLOT.w / 2} y={PLOT.h + 181} textAnchor="middle" fontSize={LABEL_FS} fontFamily={FONT}>
        <tspan fontStyle="italic">z</tspan> [pc]
      </text>
    )}
  </g>
);

const ColorBar: React.FC<{
  y: number; id: string; range: Pt; ticks: number[]; fmt: (t: number) => string; labelX: number; sym: string; zero: string;
}> = ({ y, id, range, ticks, fmt, labelX, sym, zero }) => {
  const scale = d3.scaleLinear().domain(range).range([PLOT.h, 0]);
  const w = CBAR.right - CBAR.left;
  return (
    <g transform={`translate(${CBAR.left},${y})`}>
      <linearGradient id={id} x1="0" y1="1" x2="0" y2="0">
        {cmStops.map((c, i) => (
          <stop key={c} offset={i / (cmStops.length - 1)} stopColor={c} />
        ))}
      </linearGradient>
      <rect width={w} height={PLOT.h} fill={`url(#${id})`} stroke="#000" strokeWidth={LW} />
      {ticks.map(t => (
        <g key={t} transform={`translate(${w},${scale(t)})`}>
          <line x2={TICK_LEN} stroke="#000" strokeWidth={3.6} />
          <text x={TICK_LEN + 19.4} dy="0.36em" fontSize={TICK_FS} fontFamily={FONT}>
            {fmt(t)}
          </text>
        </g>
      ))}
      <text transform={`translate(${labelX - CBAR.left},${PLOT.h / 2}) rotate(-90)`} textAnchor="middle" fontSize={80} fontFamily={FONT}>
        (<tspan fontStyle="italic">{sym}</tspan> − <tspan fontStyle="italic">{sym}</tspan>
        <tspan fontSize={56} dy={14}>{zero}</tspan>
        <tspan dy={-14}>)/</tspan>
        <tspan fontStyle="italic">{sym}</tspan>
        <tspan fontSize={56} dy={14}>{zero}</tspan>
      </text>
    </g>
  );
};

const App: React.FC = () => {
  const rhoImage = useMemo(
    () => paintField(rhoRange, (z, r) => sampleGrid(rhoZ, rhoR, rhoRows, z, r), () => rhoAhead),
    [],
  );
  const sImage = useMemo(
    () => paintField(sRange, (z, r) => sampleGrid(sZ, sR, sRows, z, r), (z, r) => sampleGrid(aheadZ, aheadR, aheadRows, z, r)),
    [],
  );
  return (
    <svg width={WIDTH} height={HEIGHT} viewBox={`0 0 ${WIDTH} ${HEIGHT}`} style={{ position: 'absolute', left: 0, top: 0, background: '#fff' }}>
      <Panel y={TOP_Y} id="clip-rho" image={rhoImage} streams={rhoStreams} arrows={rhoArrows} showX={false} />
      <Panel y={BOT_Y} id="clip-s" image={sImage} streams={sStreams} arrows={sArrows} showX />
      <ColorBar y={TOP_Y} id="cb-rho" range={rhoRange} ticks={rhoTicks} fmt={t => String(t)} labelX={2743} sym="ρ" zero="0" />
      <ColorBar y={BOT_Y} id="cb-s" range={sRange} ticks={sTicks} fmt={t => t.toFixed(2).replace('-', '\u2212')} labelX={2876} sym="s" zero="0" />
    </svg>
  );
};

export default App;
